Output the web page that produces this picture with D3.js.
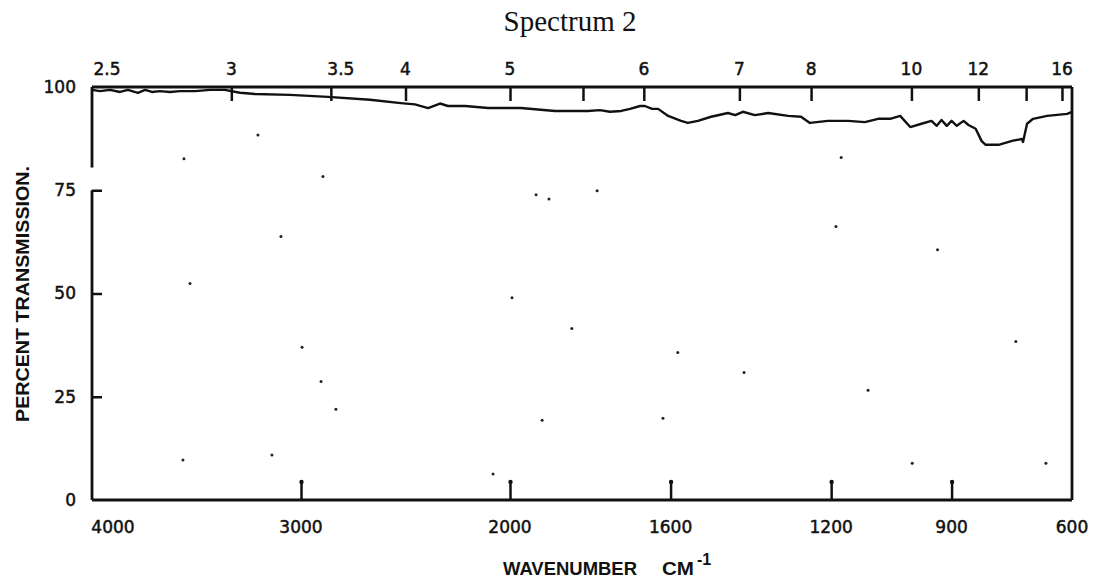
<!DOCTYPE html>
<html>
<head>
<meta charset="utf-8">
<script src="https://cdn.jsdelivr.net/npm/d3@7"></script>
<style>
    body { margin: 0; background: #fff; }
    .axis text { font-family: "DejaVu Sans", sans-serif; font-size: 17px; fill: #111; stroke: #111; stroke-width: 0.5; }
    .axis line { stroke: #111; stroke-width: 2.5; }
</style>
</head>
<body>
<div id="spectrum-area"></div>
<script>
// wavenumber (cm-1) and percent transmission
const waveNumbers = [4000, 3962, 3914, 3866, 3828, 3780, 3746, 3713, 3675, 3627, 3579, 3507, 3435, 3364,
    3292, 3220, 3053, 2871, 2670, 2522, 2455, 2392, 2335, 2297, 2215, 2105,
    1973, 1888, 1806, 1776, 1751, 1723, 1701, 1676, 1664, 1646, 1631, 1606, 1574, 1557,
    1532, 1499, 1457, 1439, 1420, 1390, 1357, 1307, 1275, 1253, 1208, 1158, 1116, 1083,
    1053, 1028, 1003, 975, 950, 937, 925, 912, 900, 887, 870, 858, 840, 825, 815,
    783, 747, 725, 722, 712, 697, 662, 612, 600];
const transmission = [99.3, 99.0, 99.3, 98.8, 99.3, 98.6, 99.3, 98.8, 99.0, 98.8, 99.0, 99.0, 99.3, 99.3,
    98.6, 98.3, 98.1, 97.6, 96.9, 96.1, 95.8, 94.9, 96.0, 95.4, 95.4, 94.9,
    94.9, 94.2, 94.2, 94.4, 94.0, 94.2, 94.7, 95.4, 95.4, 94.7, 94.7, 93.0, 91.8, 91.3,
    91.8, 92.8, 93.7, 93.2, 94.0, 93.2, 93.7, 93.0, 92.8, 91.3, 91.8, 91.8, 91.5, 92.3,
    92.3, 93.0, 90.3, 91.1, 91.8, 90.6, 92.0, 90.6, 91.8, 90.6, 91.8, 90.8, 89.9, 86.9, 86.0,
    86.0, 87.0, 87.4, 86.7, 91.1, 92.3, 93.0, 93.5, 94.0];

// axis ticks
const wnTicks = [4000, 3000, 2000, 1600, 1200, 900, 600];
const micronTicks = [3, 3.5, 4, 5, 5.5, 6, 7, 8, 10, 12, 14, 16];
const micronLabels = [2.5, 3, 3.5, 4, 5, 6, 7, 8, 10, 12, 16];
const pctTicks = [0, 25, 50, 75, 100];

// dust specks on the scanned sheet [wavenumber, percent]
const specksWn = [3560, 3206, 2895, 1935, 1903, 1783, 3096, 3531, 2995, 1995, 1846, 1582, 1417, 1188,
    1175, 740, 1108, 998, 1619, 1920, 2833, 2904, 3139, 2081, 3565, 665, 935];
const specksPct = [82.6, 88.4, 78.3, 73.9, 72.9, 74.9, 63.8, 52.4, 37.0, 49.0, 41.5, 35.7, 30.9, 66.2,
    82.9, 38.4, 26.6, 8.9, 19.8, 19.3, 22.0, 28.7, 10.9, 6.3, 9.7, 8.9, 60.6];

class SpectrumVis {

    constructor(_parentElement) {
        this.parentElement = _parentElement;
        this.data = waveNumbers.map((w, i) => ({wn: w, t: transmission[i]}));
        this.specks = specksWn.map((w, i) => ({wn: w, t: specksPct[i]}));
        this.initVis();
    }

    initVis() {
        let vis = this;

        vis.svg = d3.select("#" + vis.parentElement).append("svg")
            .attr("width", 1096)
            .attr("height", 583);

        // chart paper switches scale at 2000 cm-1
        vis.x = d3.scaleLinear()
            .domain([4000, 2000, 600])
            .range([92, 510, 1072]);

        vis.y = d3.scaleLinear()
            .domain([0, 100])
            .range([500, 87]);

        vis.drawAxes();
        vis.drawSpectrum();
    }

    drawAxes() {
        let vis = this;

        // top axis: wavelength in microns
        let topAxis = d3.axisTop(vis.x)
            .tickValues(micronTicks.map(m => 1e4 / m))
            .tickSize(-14)
            .tickFormat("");
        vis.svg.append("g")
            .attr("class", "axis top-axis")
            .attr("transform", "translate(0," + vis.y(100) + ")")
            .call(topAxis)
            .call(g => g.select(".domain").remove());

        vis.svg.append("g")
            .attr("class", "axis top-labels")
            .selectAll("text")
            .data(micronLabels)
            .enter()
            .append("text")
            .attr("x", d => vis.x(1e4 / d) + (d === 2.5 ? 15 : d === 3.5 ? 10 : 0))
            .attr("y", vis.y(100) - 12)
            .attr("text-anchor", "middle")
            .text(d => d);

        // bottom axis: wavenumber
        let bottomAxis = d3.axisBottom(vis.x)
            .tickValues(wnTicks.filter(d => d !== 4000 && d !== 600))
            .tickSize(-18)
            .tickFormat("");
        vis.svg.append("g")
            .attr("class", "axis bottom-axis")
            .attr("transform", "translate(0," + vis.y(0) + ")")
            .call(bottomAxis)
            .call(g => g.select(".domain").remove())
            .call(g => g.selectAll(".tick").append("circle")
                .attr("cy", -18).attr("r", 2.2).attr("fill", "#111"));

        vis.svg.append("g")
            .attr("class", "axis bottom-labels")
            .selectAll("text")
            .data(wnTicks)
            .enter()
            .append("text")
            .attr("x", d => vis.x(d) + (d === 4000 ? 21 : 0))
            .attr("y", vis.y(0) + 33)
            .attr("text-anchor", "middle")
            .text(d => d);

        // left axis: percent transmission
        let leftAxis = d3.axisLeft(vis.y)
            .tickValues(pctTicks)
            .tickSize(-10)
            .tickPadding(16)
            .tickFormat(d => d);
        vis.svg.append("g")
            .attr("class", "axis left-axis")
            .attr("transform", "translate(" + vis.x(4000) + ",0)")
            .call(leftAxis)
            .call(g => g.select(".domain").remove())
            .call(g => g.selectAll(".tick line").filter(d => d === 0 || d === 100).remove());

        // frame, left spine has a break just above 75
        let frame = vis.svg.append("g")
            .attr("stroke", "#111")
            .attr("stroke-width", 2.8)
            .attr("fill", "none");
        frame.append("line")
            .attr("x1", vis.x(4000)).attr("x2", vis.x(600))
            .attr("y1", vis.y(100)).attr("y2", vis.y(100));
        frame.append("line")
            .attr("x1", vis.x(4000)).attr("x2", vis.x(600))
            .attr("y1", vis.y(0)).attr("y2", vis.y(0));
        frame.append("line")
            .attr("x1", vis.x(600)).attr("x2", vis.x(600))
            .attr("y1", vis.y(100)).attr("y2", vis.y(0));
        frame.append("line")
            .attr("x1", vis.x(4000)).attr("x2", vis.x(4000))
            .attr("y1", vis.y(100)).attr("y2", vis.y(80.5));
        frame.append("line")
            .attr("x1", vis.x(4000)).attr("x2", vis.x(4000))
            .attr("y1", vis.y(75)).attr("y2", vis.y(0));

        // titles
        vis.svg.append("text")
            .attr("x", 570)
            .attr("y", 31)
            .attr("text-anchor", "middle")
            .attr("font-family", "Liberation Serif, serif")
            .attr("font-size", 29)
            .attr("fill", "#111")
            .text("Spectrum 2");

        vis.svg.append("text")
            .attr("transform", "translate(29,294) rotate(-90)")
            .attr("text-anchor", "middle")
            .attr("font-family", "Liberation Sans, sans-serif")
            .attr("font-weight", "bold")
            .attr("font-size", 18)
            .attr("textLength", 256)
            .attr("lengthAdjust", "spacingAndGlyphs")
            .attr("fill", "#111")
            .text("PERCENT TRANSMISSION.");

        let xTitle = vis.svg.append("g")
            .attr("font-family", "Liberation Sans, sans-serif")
            .attr("font-weight", "bold")
            .attr("fill", "#111");
        xTitle.append("text")
            .attr("x", 503).attr("y", 575)
            .attr("font-size", 19)
            .attr("textLength", 134)
            .attr("lengthAdjust", "spacingAndGlyphs")
            .text("WAVENUMBER");
        xTitle.append("text")
            .attr("x", 662).attr("y", 575)
            .attr("font-size", 19)
            .attr("textLength", 32)
            .attr("lengthAdjust", "spacingAndGlyphs")
            .text("CM");
        xTitle.append("text")
            .attr("x", 697).attr("y", 565)
            .attr("font-size", 16)
            .text("-1");
    }

    drawSpectrum() {
        let vis = this;

        let line = d3.line()
            .x(d => vis.x(d.wn))
            .y(d => vis.y(d.t))
            .curve(d3.curveLinear);

        vis.svg.append("path")
            .datum(vis.data)
            .attr("d", line)
            .attr("fill", "none")
            .attr("stroke", "#111")
            .attr("stroke-width", 2.4)
            .attr("stroke-linejoin", "round");

        vis.svg.append("g")
            .selectAll("circle")
            .data(vis.specks)
            .enter()
            .append("circle")
            .attr("cx", d => vis.x(d.wn))
            .attr("cy", d => vis.y(d.t))
            .attr("r", 1.5)
            .attr("fill", "#222");
    }
}

new SpectrumVis("spectrum-area");
</script>
</body>
</html>
